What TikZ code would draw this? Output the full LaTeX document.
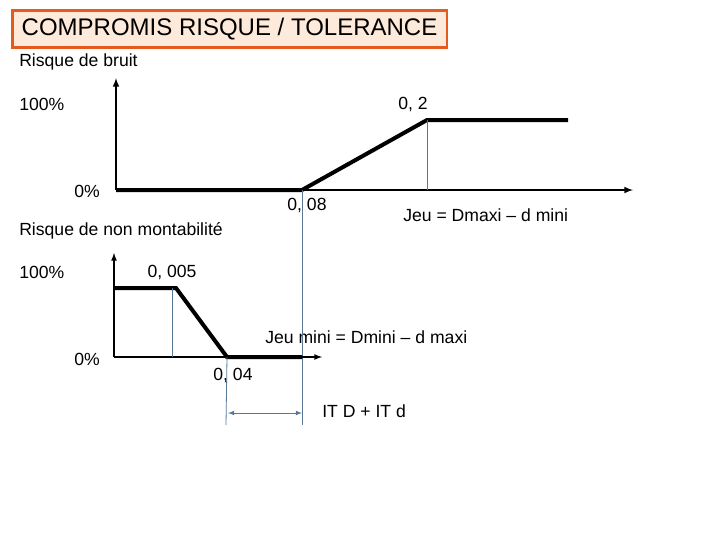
\documentclass[tikz,border=0pt]{standalone}
\usepackage{fontspec}
\setmainfont{Liberation Sans}
\begin{document}
\begin{tikzpicture}[x=0.75pt,y=-0.75pt,
  lbl/.style={font=\fontsize{13.2}{15}\selectfont,inner sep=0pt},
  axis/.style={line width=1.2pt,-latex},
  thick line/.style={line width=3pt},
  guide/.style={draw={rgb,255:red,90;green,120;blue,150},line width=0.6pt}]
\useasboundingbox (0,0) rectangle (720,540);
\node[draw={rgb,255:red,230;green,90;blue,30},line width=2pt,fill={rgb,255:red,253;green,234;blue,218},minimum width=326pt,minimum height=28pt,inner sep=0pt,font=\fontsize{18}{21}\selectfont] (title) at (229.5,29) {COMPROMIS RISQUE / TOLERANCE};
\node[lbl,anchor=west] (rb) at (19,62) {Risque de bruit};
\node[lbl,anchor=west] (p1) at (19,104) {100\%};
\node[lbl,anchor=west] (z1) at (74,191) {0\%};
\node[lbl] (v02) at (413,104) {0, 2};
\node[lbl] (v008) at (307,205) {0, 08};
\node[lbl,anchor=west] (jeu) at (403,215) {Jeu = Dmaxi -- d mini};
\node[lbl,anchor=west] (rnm) at (19,231) {Risque de non montabilité};
\node[lbl,anchor=west] (p2) at (19,272) {100\%};
\node[lbl] (v005) at (172,272) {0, 005};
\node[lbl,anchor=west] (z2) at (74,359) {0\%};
\node[lbl,anchor=west] (jmin) at (265,337) {Jeu mini = Dmini -- d maxi};
\node[lbl] (v004) at (233,375) {0, 04};
\node[lbl,anchor=west] (itd) at (322,411) {IT D + IT d};
% top graph
\coordinate (o1) at (116,190);
\draw[axis] (o1) -- (116,78);
\draw[axis] (o1) -- (633,190);
\coordinate (a) at (302,190); \coordinate (b) at (427,120); \coordinate (c) at (568,120);
\draw[thick line] (o1) -- (a) -- (b) -- (c);
\draw[guide] (b) -- (427,190);
\coordinate (ga) at (302,425);
\draw[guide] (a) -- (ga);
% bottom graph
\coordinate (o2) at (114,357);
\draw[axis,line width=1pt] (o2) -- (114,253);
\draw[axis,line width=1pt] (o2) -- (322,357);
\coordinate (d) at (114,288); \coordinate (e) at (176,288); \coordinate (f) at (227,357); \coordinate (g) at (302,357);
\draw[thick line] (d) -- (e) -- (f) -- (g);
\draw[guide] (172,288) -- (172,357);
\coordinate (gf) at (226,425);
\draw[guide] (f) -- (gf);
\draw[guide,{latex}-{latex}] (228,413) -- (302,413);
\end{tikzpicture}
\end{document}
